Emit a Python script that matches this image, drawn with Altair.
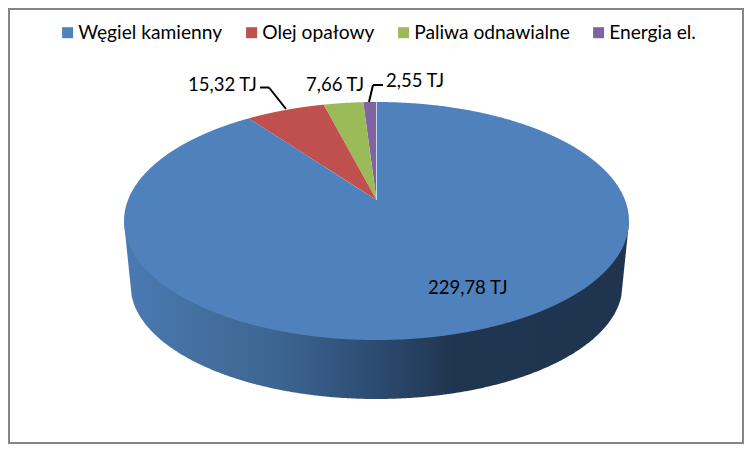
import math
import altair as alt
import pandas as pd

# ---- values ----
categories = ["Węgiel kamienny", "Olej opałowy", "Paliwa odnawialne", "Energia el."]
values = [229.78, 15.32, 7.66, 2.55]
value_labels = ["229,78 TJ", "15,32 TJ", "7,66 TJ", "2,55 TJ"]
colors = ["#4F81BD", "#C0504D", "#9BBB59", "#8064A2"]

# ---- picture geometry (page pixels) ----
PAGE = 8
CX, CY = 376.5, 200.0      # apex of the slices
K, A, B = 0.1765, 248.5, 115.3   # perspective of the disc
BOT_CY, BOT_RX, BOT_RY = 285.0, 246.0, 114.0  # floor rim of the pie
FONT = "Lato"
W, H = 736, 436


def rim(turn):
    """Point on the perspective rim, turn measured from the top, anticlockwise."""
    t = turn * 2 * math.pi
    u, v = -math.sin(t), math.cos(t)
    d = 1 + K * v
    return CX + A * u / d, CY - B * v / d


def sector_band(a, b):
    poly = [(CX, CY)] + [rim(a + (b - a) * i / 720) for i in range(721)]
    edges = list(zip(poly, poly[1:] + poly[:1]))
    xs = sorted({round(p[0], 3) for p in poly})
    rows = []
    for x in xs:
        hits = []
        for (x0, y0), (x1, y1) in edges:
            lo, hi = min(x0, x1), max(x0, x1)
            if lo - 1e-6 <= x <= hi + 1e-6:
                if abs(x1 - x0) < 1e-9:
                    hits += [y0, y1]
                else:
                    hits.append(y0 + (y1 - y0) * (x - x0) / (x1 - x0))
        if hits:
            rows.append((x, min(hits), max(hits)))
    return rows


# order of drawing runs anticlockwise from the top: small slices first, then coal
order = [3, 2, 1, 0]
total = sum(values)
slice_rows = []
cum = 0.0
for idx in order:
    share = values[idx] / total
    for x, y0, y1 in sector_band(cum, cum + share):
        slice_rows.append({"name": categories[idx], "x": x, "y": y0, "y2": y1})
    cum += share
slices = pd.DataFrame(slice_rows)

# side wall
side_rows = []
mid_y = 222.0
left_top = CX - 252.5
right_top = CX + 252.5
side_rows.append({"x": left_top, "y": mid_y, "y2": mid_y})
for i in range(0, 401):
    s = -1 + 2 * i / 400
    x = CX + BOT_RX * s
    side_rows.append({"x": x, "y": mid_y, "y2": BOT_CY + BOT_RY * math.sqrt(max(0, 1 - s * s))})
side_rows.append({"x": right_top, "y": mid_y, "y2": mid_y})
side = pd.DataFrame(side_rows)

x_enc = alt.X("x:Q", scale=alt.Scale(domain=[PAGE, PAGE + W], nice=False, zero=False), axis=None)
y_enc = alt.Y("y:Q", scale=alt.Scale(domain=[PAGE + H, PAGE], nice=False, zero=False), axis=None)

side_layer = alt.Chart(side).mark_area(
    interpolate="linear",
    color=alt.Gradient(
        gradient="linear", x1=0, x2=1, y1=0, y2=0,
        stops=[
            alt.GradientStop(offset=0.0, color="#4A7AB3"),
            alt.GradientStop(offset=0.15, color="#44709F"),
            alt.GradientStop(offset=0.3, color="#3D6593"),
            alt.GradientStop(offset=0.5, color="#2C4B70"),
            alt.GradientStop(offset=0.65, color="#203650"),
            alt.GradientStop(offset=1.0, color="#1F344E"),
        ],
    ),
).encode(x=x_enc, y=y_enc, y2="y2:Q")

slice_layer = alt.Chart(slices).mark_area(interpolate="linear").encode(
    x=x_enc, y=y_enc, y2="y2:Q",
    detail="name:N",
    color=alt.Color(
        "name:N",
        scale=alt.Scale(domain=categories, range=colors),
        legend=alt.Legend(
            title=None, orient="none", legendX=50, legendY=15, direction="horizontal",
            columns=4, symbolType="square", symbolSize=121, symbolStrokeWidth=0,
            labelFont=FONT, labelFontSize=19.2, labelColor="#000000", labelOffset=1,
            columnPadding=19, padding=0, labelLimit=300, symbolOpacity=1,
        ),
    ),
)


def px(v):
    return alt.value(v - PAGE)


seam = alt.Chart(pd.DataFrame({"a": [0]})).mark_rule(color="#C9D8EA", strokeWidth=1).encode(
    x=px(CX), x2=px(CX), y=px(CY), y2=px(rim(0)[1])
)


def leader(x0, y0, x1, y1):
    return alt.Chart(pd.DataFrame({"a": [0]})).mark_rule(
        color="#000000", strokeWidth=2
    ).encode(x=px(x0), x2=px(x1), y=px(y0), y2=px(y1))


leaders = [
    leader(260, 87.5, 269, 87.5),
    leader(269, 87.5, 286, 109),
    leader(373, 85, 383, 85),
    leader(373, 85, 369, 102),
]


def label(text, x, y):
    return alt.Chart(pd.DataFrame({"t": [text]})).mark_text(
        font=FONT, fontSize=18.5, color="#000000", align="left", baseline="alphabetic"
    ).encode(text="t:N", x=px(x), y=px(y))


labels = [
    label(value_labels[0], 428, 294),
    label(value_labels[1], 188, 91),
    label(value_labels[2], 306, 91),
    label(value_labels[3], 386, 87),
]

frame = alt.Chart(pd.DataFrame({"a": [0]})).mark_rect(
    fillOpacity=0, stroke="#868686", strokeWidth=2
).encode(x=alt.value(1), x2=alt.value(W - 1), y=alt.value(1), y2=alt.value(H - 1))

chart = alt.layer(side_layer, slice_layer, seam, *leaders, *labels, frame).properties(
    width=W, height=H, padding=0, background="white",
    autosize=alt.AutoSizeParams(type="none"),
).configure_view(stroke=None)

chart.save("out.html", embed_options={"renderer": "svg", "actions": False})
